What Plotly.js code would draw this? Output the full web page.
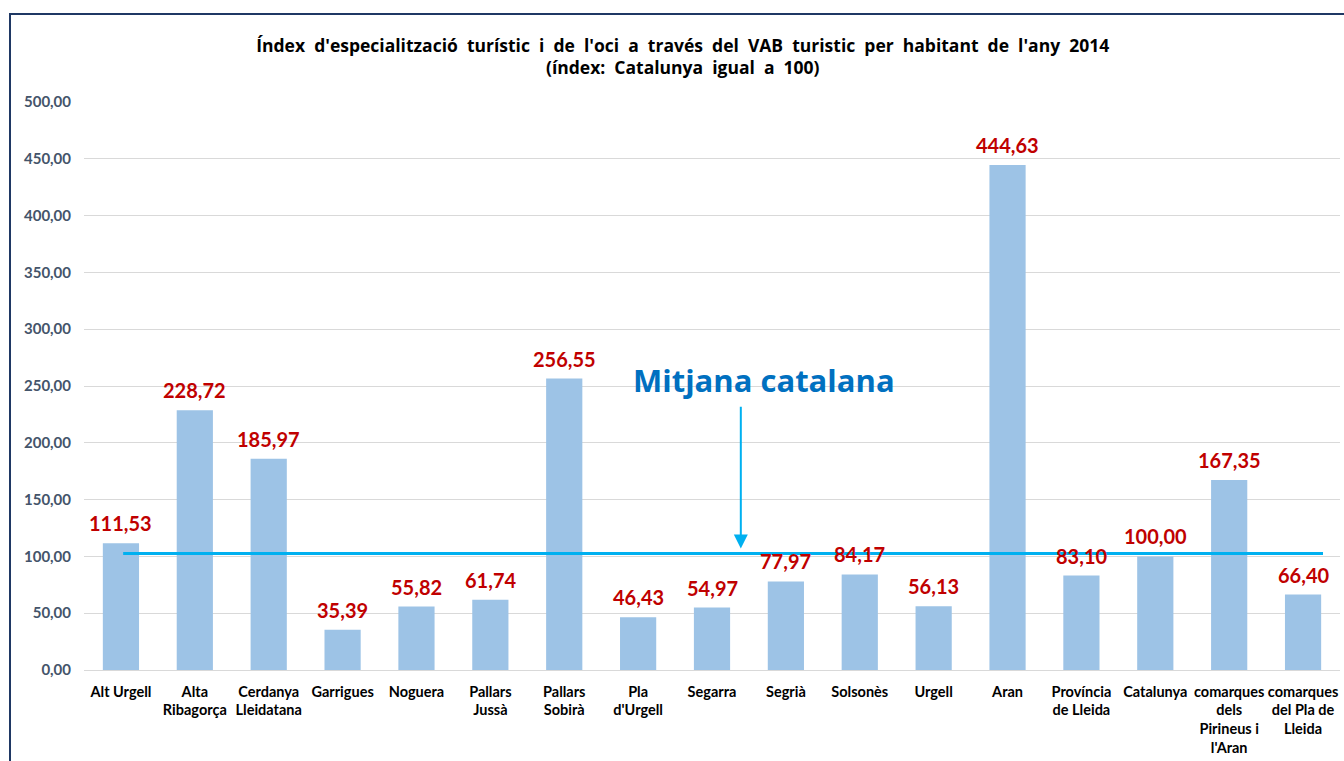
<!DOCTYPE html>
<html>
<head>
<meta charset="utf-8">
<script src="https://cdn.plot.ly/plotly-3.0.1.min.js"></script>
<style>
  html, body { margin: 0; padding: 0; background: #ffffff; overflow: hidden; }
  #frame { position: absolute; left: 9px; top: 13px; width: 1400px; height: 800px; border: 2px solid #1F3864; box-sizing: border-box; pointer-events: none; z-index: 2; }
  #chart { position: absolute; left: 0; top: 0; width: 1344px; height: 761px; }
</style>
</head>
<body>
<div id="chart"></div>
<div id="frame"></div>
<script>
const categories = [
  "Alt Urgell", "Alta<br>Ribagorça", "Cerdanya<br>Lleidatana", "Garrigues", "Noguera",
  "Pallars<br>Jussà", "Pallars<br>Sobirà", "Pla<br>d'Urgell", "Segarra", "Segrià",
  "Solsonès", "Urgell", "Aran", "Província<br>de Lleida", "Catalunya",
  "comarques<br>dels<br>Pirineus i<br>l'Aran", "comarques<br>del Pla de<br>Lleida"
];
const values = [111.53, 228.72, 185.97, 35.39, 55.82, 61.74, 256.55, 46.43, 54.97, 77.97,
                84.17, 56.13, 444.63, 83.10, 100.00, 167.35, 66.40];
const averageLineValue = 102.5;
const averageLabel = "Mitjana catalana";
const titleLine1 = "Índex d'especialització turístic i de l'oci a través del VAB turistic per habitant de l'any 2014";
const titleLine2 = "(índex: Catalunya igual a 100)";

const idx = categories.map((_, i) => i);
const fmt = v => v.toFixed(2).replace('.', ',');
const wide = s => s.split(' ').join(' \u00A0');

const trace = {
  type: 'bar',
  x: idx,
  y: values,
  marker: { color: '#9DC3E6' },
  hoverinfo: 'skip'
};

const labelAnnotations = values.map((v, i) => ({
  x: i, y: v, xref: 'x', yref: 'y',
  text: fmt(v), showarrow: false,
  yanchor: 'bottom', yshift: 6,
  font: { family: 'Lato, sans-serif', size: 20, color: '#C00000', weight: 'bold' }
}));

const layout = {
  width: 1344, height: 761,
  margin: { l: 84, r: 4, t: 102, b: 91 },
  paper_bgcolor: '#ffffff', plot_bgcolor: '#ffffff',
  separators: ',.',
  bargap: 0.51,
  showlegend: false,
  title: {
    text: wide(titleLine1) + '<br>' + wide(titleLine2),
    x: 0.508, xref: 'container', xanchor: 'center',
    y: 0.932, yref: 'container', yanchor: 'middle',
    font: { family: 'Open Sans, sans-serif', size: 17.5, color: '#000000', weight: 'bold' }
  },
  xaxis: {
    tickmode: 'array', tickvals: idx, ticktext: categories,
    range: [-0.5, categories.length - 0.5],
    showgrid: false, zeroline: false, showline: false, ticks: '',
    tickangle: 0, ticklabelstandoff: 11,
    tickfont: { family: 'Lato, sans-serif', size: 14.5, color: '#000000', weight: 'bold' }
  },
  yaxis: {
    range: [0, 500], dtick: 50, tick0: 0, tickformat: '.2f',
    showgrid: true, gridcolor: '#D9D9D9', gridwidth: 1,
    zeroline: true, zerolinecolor: '#D9D9D9', zerolinewidth: 1,
    showline: false, ticks: '', ticklabelstandoff: 12,
    tickfont: { family: 'Lato, sans-serif', size: 15, color: '#44546A', weight: 'bold' }
  },
  shapes: [{
    type: 'line', xref: 'x', yref: 'y',
    x0: 0.03, x1: 16.27, y0: averageLineValue, y1: averageLineValue,
    line: { color: '#00B0F0', width: 3 }, layer: 'above'
  }],
  annotations: labelAnnotations.concat([
    {
      x: 8.71, y: 255, xref: 'x', yref: 'y', text: averageLabel, showarrow: false,
      xanchor: 'center', yanchor: 'middle',
      font: { family: 'Open Sans, sans-serif', size: 31, color: '#0070C0', weight: 'bold' }
    },
    {
      x: 8.39, y: 107, xref: 'x', yref: 'y', text: '', showarrow: true,
      axref: 'x', ayref: 'y', ax: 8.39, ay: 233,
      arrowhead: 2, arrowsize: 1.4, arrowwidth: 2, arrowcolor: '#00B0F0', standoff: 0
    }
  ])
};

Plotly.newPlot('chart', [trace], layout, { displayModeBar: false, staticPlot: true });
</script>
</body>
</html>
